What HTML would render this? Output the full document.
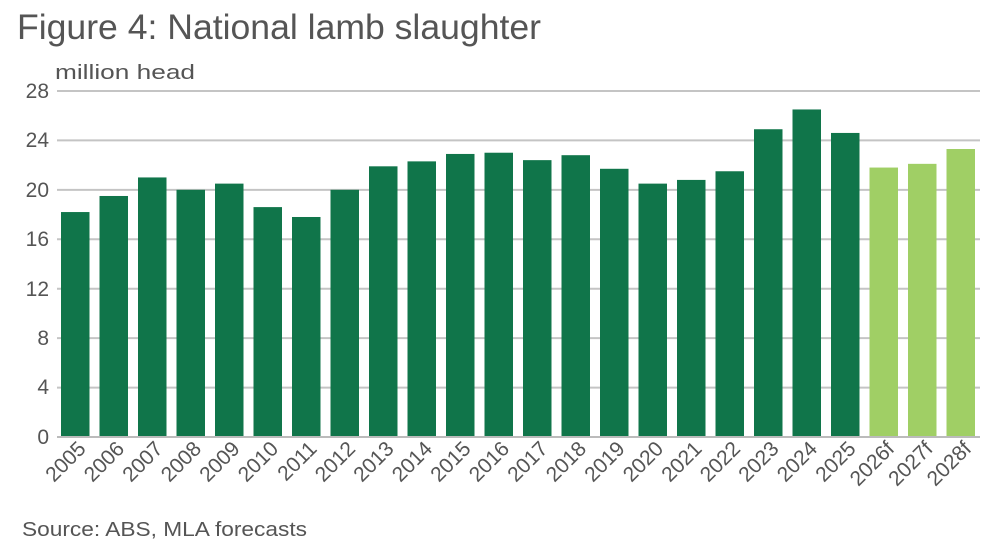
<!DOCTYPE html>
<html><head><meta charset="utf-8"><style>
body{margin:0;background:#fff;}
svg{display:block;font-family:"Liberation Sans",sans-serif;}
</style></head><body>
<svg width="1000" height="548" viewBox="0 0 1000 548">
<text x="17" y="39" font-size="35" fill="#555" textLength="524" lengthAdjust="spacingAndGlyphs">Figure 4: National lamb slaughter</text>
<text x="55" y="79" font-size="20" fill="#555" textLength="140" lengthAdjust="spacingAndGlyphs">million head</text>
<g stroke="#c4c4c4" stroke-width="2">
<line x1="57" x2="980" y1="91" y2="91"/>
<line x1="57" x2="980" y1="140.4" y2="140.4"/>
<line x1="57" x2="980" y1="189.9" y2="189.9"/>
<line x1="57" x2="980" y1="239.3" y2="239.3"/>
<line x1="57" x2="980" y1="288.7" y2="288.7"/>
<line x1="57" x2="980" y1="338.1" y2="338.1"/>
<line x1="57" x2="980" y1="387.6" y2="387.6"/>
</g>
<g font-size="21" fill="#555" text-anchor="end">
<text x="49" y="98">28</text><text x="49" y="147">24</text><text x="49" y="197">20</text><text x="49" y="246">16</text><text x="49" y="296">12</text><text x="49" y="345">8</text><text x="49" y="394">4</text><text x="49" y="444">0</text>
</g>
<g id="bars"></g>
<line x1="57" x2="980" y1="437" y2="437" stroke="#bbb" stroke-width="2"/>
<g id="labels" font-size="21" fill="#555"></g>
<text x="22" y="536" font-size="20" fill="#555" textLength="285" lengthAdjust="spacingAndGlyphs">Source: ABS, MLA forecasts</text>
<script>
var v=[18.2,19.5,21.0,20.0,20.5,18.6,17.8,20.0,21.9,22.3,22.9,23.0,22.4,22.8,21.7,20.5,20.8,21.5,24.9,26.5,24.6,21.8,22.1,23.3];
var l=["2005","2006","2007","2008","2009","2010","2011","2012","2013","2014","2015","2016","2017","2018","2019","2020","2021","2022","2023","2024","2025","2026f","2027f","2028f"];
var ns="http://www.w3.org/2000/svg",b=document.getElementById("bars"),L=document.getElementById("labels");
for(var i=0;i<24;i++){var x=61+i*38.5,h=v[i]*12.36;
var r=document.createElementNS(ns,"rect");r.setAttribute("x",x);r.setAttribute("y",437-h);r.setAttribute("width",28.5);r.setAttribute("height",h);r.setAttribute("fill",i>20?"#a0cf65":"#10754a");b.appendChild(r);
var t=document.createElementNS(ns,"text");var cx=x+26,cy=450;t.setAttribute("x",cx);t.setAttribute("y",cy);t.setAttribute("text-anchor","end");t.setAttribute("transform","rotate(-45 "+cx+" "+cy+")");t.textContent=l[i];L.appendChild(t);}
</script>
</svg>
</body></html>
